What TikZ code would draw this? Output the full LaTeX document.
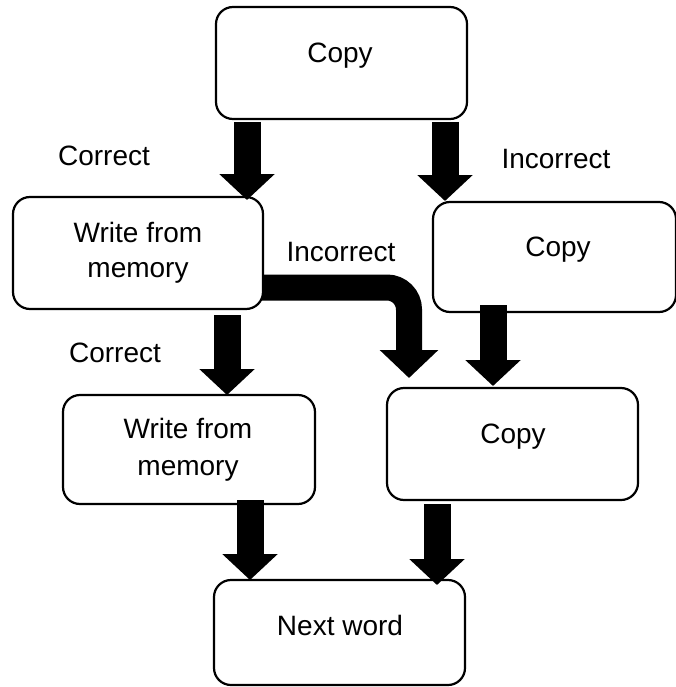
\documentclass[tikz,border=0pt]{standalone}
\usepackage{fontspec}
\setmainfont{Liberation Sans}
\usetikzlibrary{arrows.meta}
\begin{document}
\begin{tikzpicture}[x=1pt,y=-1pt,
  box/.style={draw=black,line width=2.2pt,rounded corners=17pt,fill=white,inner sep=0pt,outer sep=0pt},
  lbl/.style={anchor=base,inner sep=0pt,font=\fontsize{28}{34}\selectfont},
  barrow/.style={line width=27pt,-{Triangle[width=54pt,length=26pt]}}]
\useasboundingbox (0,0) rectangle (675,687);
% boxes
\node[box,minimum width=251pt,minimum height=112pt] (topcopy) at (341.5,63) {};
\node[box,minimum width=250pt,minimum height=112pt] (writeA) at (138,253) {};
\node[box,minimum width=243pt,minimum height=110pt] (copyR) at (554.5,257) {};
\node[box,minimum width=252pt,minimum height=109pt] (writeB) at (189,449.5) {};
\node[box,minimum width=251pt,minimum height=112pt] (copyL) at (512.5,444) {};
\node[box,minimum width=251pt,minimum height=105pt] (next) at (339.5,632.5) {};
% texts
\node[lbl] (t1) at (340,63) {Copy};
\node[lbl] (t2a) at (138,242) {Write from};
\node[lbl] (t2b) at (138,277) {memory};
\node[lbl] (t3) at (558,256) {Copy};
\node[lbl] (t4a) at (188,438) {Write from};
\node[lbl] (t4b) at (188,475) {memory};
\node[lbl] (t5) at (513,443) {Copy};
\node[lbl] (t6) at (340,635) {Next word};
\node[lbl] (l1) at (104,165) {Correct};
\node[lbl] (l2) at (556,168) {Incorrect};
\node[lbl] (l3) at (341,261) {Incorrect};
\node[lbl] (l4) at (115,362) {Correct};
% arrow end points
\coordinate (a1s) at (247,122); \coordinate (a1e) at (247,200);
\coordinate (a2s) at (445,122); \coordinate (a2e) at (445,201);
\coordinate (a3s) at (227,315); \coordinate (a3e) at (227,395);
\coordinate (a4s) at (493,305); \coordinate (a4e) at (493,386);
\coordinate (a5s) at (250,500); \coordinate (a5e) at (250,580);
\coordinate (a6s) at (437,504); \coordinate (a6e) at (437,585);
\coordinate (a7s) at (262,287.5); \coordinate (a7e) at (409,378);
\draw[barrow] (a1s) -- (a1e);
\draw[barrow] (a2s) -- (a2e);
\draw[barrow] (a3s) -- (a3e);
\draw[barrow] (a4s) -- (a4e);
\draw[barrow] (a5s) -- (a5e);
\draw[barrow] (a6s) -- (a6e);
\draw[barrow,line width=26pt,-{Triangle[width=57pt,length=28pt]},rounded corners=22pt] (a7s) -| (a7e);
\end{tikzpicture}
\end{document}
